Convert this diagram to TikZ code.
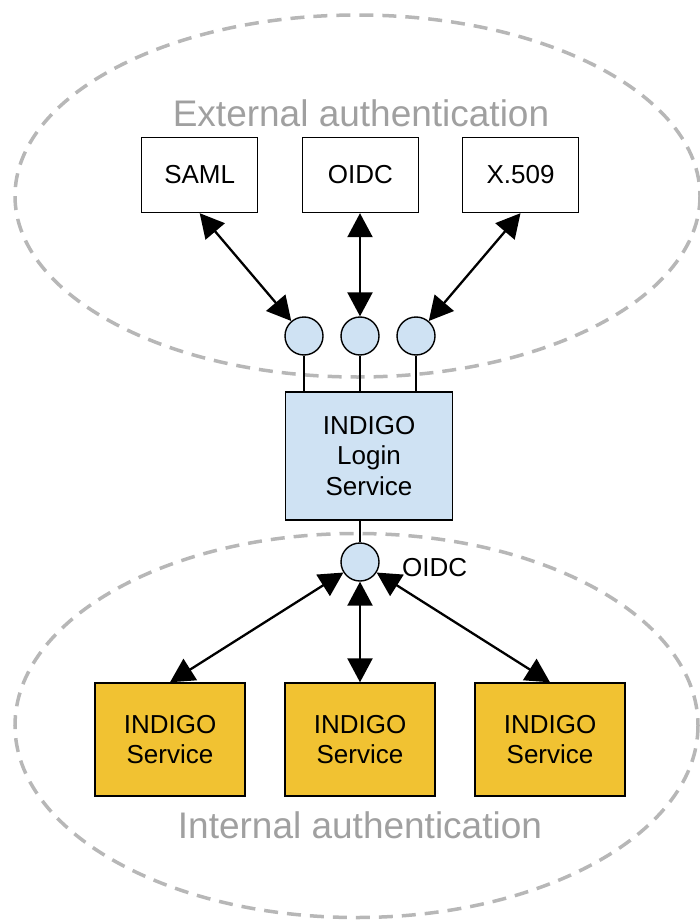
\documentclass[tikz,border=0pt]{standalone}
\usepackage{fontspec}
\setmainfont{Liberation Sans}
\usetikzlibrary{arrows.meta}
\definecolor{lblue}{HTML}{CFE2F3}
\definecolor{gold}{HTML}{F1C232}
\definecolor{zonegray}{HTML}{B7B7B7}
\definecolor{labgray}{HTML}{A0A0A0}
\begin{document}
\begin{tikzpicture}[x=1pt,y=-1pt,
  txt/.style={font=\fontsize{26}{30.5}\selectfont, align=center, inner sep=0pt},
  box/.style={txt, draw, line width=1.4pt, minimum width=116pt, minimum height=75pt},
  loginbox/.style={txt, draw, fill=lblue, line width=1.4pt, minimum width=167pt, minimum height=128pt},
  svcbox/.style={txt, draw, fill=gold, line width=1.4pt, minimum width=150pt, minimum height=113pt},
  port/.style={circle, draw, fill=lblue, line width=1.4pt, minimum size=38pt, inner sep=0pt},
  zone/.style={draw=zonegray, line width=3.5pt, dash pattern=on 14pt off 9pt},
  zonelabel/.style={text=labgray, font=\fontsize{37}{40}\selectfont, inner sep=0pt},
  tip/.tip={Triangle[length=24pt 0, width=25pt 0]},
  biarrow/.style={line width=2.3pt, tip-tip},
  stub/.style={line width=1.4pt}
]
\useasboundingbox (0,0) rectangle (699,920);
% zones
\draw[zone] (357.5,196) ellipse [x radius=342.5, y radius=181];
\draw[zone] (356.5,725.5) ellipse [x radius=341.5, y radius=192];
\node[zonelabel] (extlab) at (361,113) {External authentication};
\node[zonelabel] (intlab) at (360,825) {Internal authentication};
% external providers
\node[box] (saml) at (199.7,175) {SAML};
\node[box] (oidc) at (360.3,175) {OIDC};
\node[box] (x509) at (520.5,175) {X.509};
% ports
\node[port] (c1) at (304,336) {};
\node[port] (c2) at (360,336) {};
\node[port] (c3) at (416,336) {};
% login service
\node[loginbox] (login) at (369,456) {INDIGO\\Login\\Service};
\node[port] (c4) at (360,562) {};
\node[txt, anchor=west] (oidclab) at (402,568) {OIDC};
% services
\node[svcbox] (s1) at (170,739.5) {INDIGO\\Service};
\node[svcbox] (s2) at (360,739.5) {INDIGO\\Service};
\node[svcbox] (s3) at (550,739.5) {INDIGO\\Service};
% stubs
\draw[stub] (c1) -- (c1 |- login.north);
\draw[stub] (c2) -- (c2 |- login.north);
\draw[stub] (c3) -- (c3 |- login.north);
\draw[stub] (c4) -- (c4 |- login.south);
% arrows
\draw[biarrow] (saml.south) -- (c1);
\draw[biarrow] (oidc.south -| c2) -- (c2);
\draw[biarrow] (x509.south) -- (c3);
\draw[biarrow] (c4) -- (s1.north);
\draw[biarrow] (c4) -- (s2.north);
\draw[biarrow] (c4) -- (s3.north);
\end{tikzpicture}
\end{document}
